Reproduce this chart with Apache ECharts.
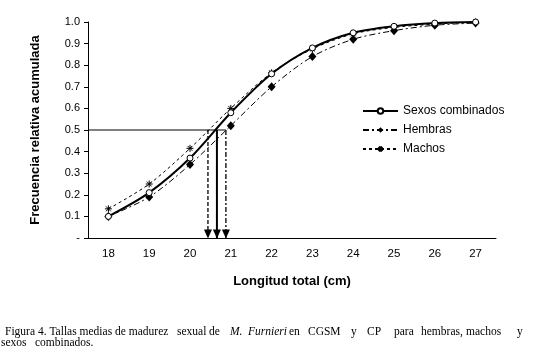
<!DOCTYPE html>
<html><head><meta charset="utf-8">
<script src="https://cdn.jsdelivr.net/npm/echarts@6/dist/echarts.min.js"></script>
<style>html,body{margin:0;padding:0;background:#fff}#c{width:554px;height:355px}</style>
</head><body><div id="c"></div>
<script>
// ---- data ----
const lengths = [18, 19, 20, 21, 22, 23, 24, 25, 26, 27];
const xTickLabels = ['18', '19', '20', '21', '22', '23', '24', '25', '26', '27'];
const yTickLabels = ['-', '0.1', '0.2', '0.3', '0.4', '0.5', '0.6', '0.7', '0.8', '0.9', '1.0'];
const sexosCombinados = [0.10, 0.21, 0.37, 0.58, 0.76, 0.88, 0.95, 0.98, 0.995, 1.0];
const hembras = [0.10, 0.19, 0.34, 0.52, 0.70, 0.84, 0.92, 0.96, 0.985, 0.995];
const machos = [0.135, 0.25, 0.415, 0.60, 0.765, 0.875, 0.945, 0.975, 0.99, 1.0];
const l50Machos = 20.44;
const l50Combinados = 20.66;
const l50Hembras = 20.88;
const refLevel = 0.5;
const seriesNames = ['Sexos combinados', 'Hembras', 'Machos'];

// ---- chart ----
const pairs = arr => lengths.map((x, i) => [x, arr[i]]);
const asterisk = 'path://M0,5L10,5M5,0L5,10M1.5,1.5L8.5,8.5M8.5,1.5L1.5,8.5';
function arrow(x, type, width) {
  return {
    type: 'line', xAxisIndex: 1, yAxisIndex: 0, clip: false, silent: true,
    lineStyle: { color: '#000', width: width, type: type },
    itemStyle: { color: '#000' },
    data: [
      { value: [x, refLevel], symbol: 'none' },
      { value: [x, 0], symbol: 'triangle', symbolRotate: 180, symbolSize: [8, 9], symbolOffset: [0, -4] }
    ],
    z: 1
  };
}
const chart = echarts.init(document.getElementById('c'), null, { renderer: 'canvas' });
const txt = { color: '#000', fontFamily: 'Liberation Sans, Arial, sans-serif' };
chart.setOption({
  animation: false,
  backgroundColor: '#fff',
  grid: { left: 88, right: 58, top: 22, bottom: 117 },
  legend: {
    orient: 'vertical', left: 362, top: 105, padding: 0,
    itemWidth: 35, itemHeight: 7, itemGap: 7,
    textStyle: Object.assign({ fontSize: 12 }, txt),
    data: seriesNames
  },
  xAxis: [
    {
      type: 'category', data: xTickLabels, boundaryGap: true,
      axisLine: { lineStyle: { color: '#000', width: 1 } },
      axisTick: { length: 4, lineStyle: { color: '#000' }, alignWithLabel: false },
      axisLabel: Object.assign({ fontSize: 11.5, margin: 10 }, txt),
      name: 'Longitud total (cm)', nameLocation: 'middle', nameGap: 37,
      nameTextStyle: Object.assign({ fontSize: 13, fontWeight: 'bold' }, txt),
      splitLine: { show: false }
    },
    { type: 'value', min: 17.5, max: 27.5, show: false }
  ],
  yAxis: {
    type: 'value', min: 0, max: 1, interval: 0.1,
    axisLine: { show: true, lineStyle: { color: '#000', width: 1 } },
    axisTick: { show: true, length: 4, lineStyle: { color: '#000' } },
    axisLabel: Object.assign({ fontSize: 11, margin: 8,
      formatter: v => yTickLabels[Math.round(v * 10)] }, txt),
    splitLine: { show: false },
    name: 'Frecuencia relativa acumulada', nameLocation: 'middle', nameGap: 46,
    nameTextStyle: Object.assign({ fontSize: 13, fontWeight: 'bold' }, txt)
  },
  series: [
    {
      type: 'line', xAxisIndex: 1, yAxisIndex: 0, silent: true, clip: false,
      data: [[17.5, refLevel], [l50Hembras, refLevel]], symbol: 'none',
      lineStyle: { color: '#000', width: 1 }, z: 1
    },
    arrow(l50Machos, [4, 2], 1.3),
    arrow(l50Combinados, 'solid', 2),
    arrow(l50Hembras, [5, 2, 2, 2], 1.3),
    {
      name: 'Machos', type: 'line', xAxisIndex: 1, smooth: 0.3,
      data: pairs(machos), symbol: asterisk, symbolSize: 7,
      lineStyle: { color: '#000', width: 1, type: [3, 3] },
      itemStyle: { color: 'rgba(0,0,0,0)', borderColor: '#000', borderWidth: 1 }, z: 3
    },
    {
      name: 'Hembras', type: 'line', xAxisIndex: 1, smooth: 0.3,
      data: pairs(hembras), symbol: 'diamond', symbolSize: [8, 9],
      lineStyle: { color: '#000', width: 1, type: [6, 3, 2, 3] },
      itemStyle: { color: '#000' }, z: 4
    },
    {
      name: 'Sexos combinados', type: 'line', xAxisIndex: 1, smooth: 0.3,
      data: pairs(sexosCombinados), symbol: 'circle', symbolSize: 6,
      lineStyle: { color: '#000', width: 2 },
      itemStyle: { color: '#fff', borderColor: '#000', borderWidth: 1 }, z: 5
    }
  ],
  graphic: (function () {
    const serif = '11.5px "Liberation Serif", "Times New Roman", serif';
    const italic = 'italic 11.5px "Liberation Serif", "Times New Roman", serif';
    const y1 = 332, y2 = 343;
    const words = [
      ['Figura 4. Tallas medias de madurez', 5, y1, serif],
      ['sexual', 177, y1, serif], ['de', 209, y1, serif],
      ['M.', 230, y1, italic], ['Furnieri', 248, y1, italic],
      ['en', 289, y1, serif], ['CGSM', 308, y1, serif], ['y', 351, y1, serif],
      ['CP', 367, y1, serif], ['para', 394, y1, serif], ['hembras,', 421, y1, serif],
      ['machos', 466, y1, serif], ['y', 517, y1, serif],
      ['sexos', 1, y2, serif], ['combinados.', 35, y2, serif]
    ];
    return words.map(w => ({
      type: 'text', left: w[1], top: w[2] - 6,
      style: { text: w[0], font: w[3], fill: '#000' }
    }));
  })()
});
</script></body></html>
